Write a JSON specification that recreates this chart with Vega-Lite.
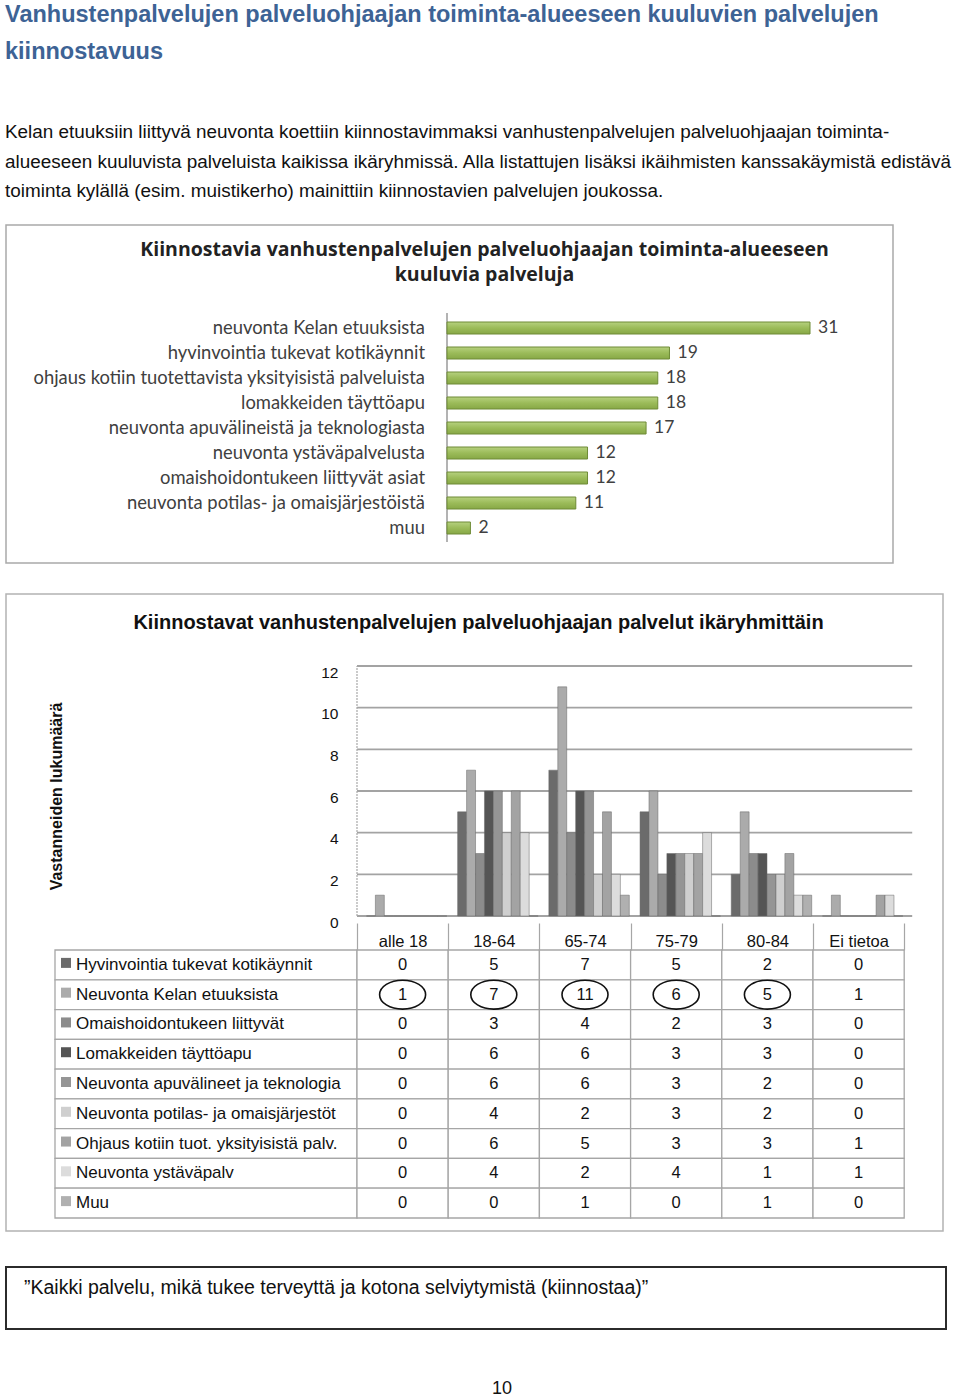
{
  "$schema": "https://vega.github.io/schema/vega-lite/v6.json",
  "padding": {"left": 5, "top": 2, "right": 0, "bottom": 0},
  "background": "white",
  "config": {"font": "Liberation Sans", "view": {"stroke": null}},
  "title": {
    "text": ["Vanhustenpalvelujen palveluohjaajan toiminta-alueeseen kuuluvien palvelujen", "kiinnostavuus"],
    "subtitle": ["Kelan etuuksiin liittyvä neuvonta koettiin kiinnostavimmaksi vanhustenpalvelujen palveluohjaajan toiminta-", "alueeseen kuuluvista palveluista kaikissa ikäryhmissä. Alla listattujen lisäksi ikäihmisten kanssakäymistä edistävä", "toiminta kylällä (esim. muistikerho) mainittiin kiinnostavien palvelujen joukossa."],
    "anchor": "start", "font": "Liberation Sans", "fontSize": 23.5, "fontWeight": "bold", "color": "#3d6395",
    "lineHeight": 37, "baseline": "top", "subtitleFont": "Liberation Sans", "subtitleFontSize": 18.9, "subtitleColor": "#111111",
    "subtitleLineHeight": 29.5, "subtitlePadding": 60, "offset": 23
  },
  "datasets": {
    "palvelut": [
      {"palvelu": "neuvonta Kelan etuuksista", "n": 31},
      {"palvelu": "hyvinvointia tukevat kotikäynnit", "n": 19},
      {"palvelu": "ohjaus kotiin tuotettavista yksityisistä palveluista", "n": 18},
      {"palvelu": "lomakkeiden täyttöapu", "n": 18},
      {"palvelu": "neuvonta apuvälineistä ja teknologiasta", "n": 17},
      {"palvelu": "neuvonta ystäväpalvelusta", "n": 12},
      {"palvelu": "omaishoidontukeen liittyvät asiat", "n": 12},
      {"palvelu": "neuvonta potilas- ja omaisjärjestöistä", "n": 11},
      {"palvelu": "muu", "n": 2}
    ],
    "taulukko": [
      {"series": "Hyvinvointia tukevat kotikäynnit", "age": "alle 18", "n": 0},
      {"series": "Hyvinvointia tukevat kotikäynnit", "age": "18-64", "n": 5},
      {"series": "Hyvinvointia tukevat kotikäynnit", "age": "65-74", "n": 7},
      {"series": "Hyvinvointia tukevat kotikäynnit", "age": "75-79", "n": 5},
      {"series": "Hyvinvointia tukevat kotikäynnit", "age": "80-84", "n": 2},
      {"series": "Hyvinvointia tukevat kotikäynnit", "age": "Ei tietoa", "n": 0},
      {"series": "Neuvonta Kelan etuuksista", "age": "alle 18", "n": 1},
      {"series": "Neuvonta Kelan etuuksista", "age": "18-64", "n": 7},
      {"series": "Neuvonta Kelan etuuksista", "age": "65-74", "n": 11},
      {"series": "Neuvonta Kelan etuuksista", "age": "75-79", "n": 6},
      {"series": "Neuvonta Kelan etuuksista", "age": "80-84", "n": 5},
      {"series": "Neuvonta Kelan etuuksista", "age": "Ei tietoa", "n": 1},
      {"series": "Omaishoidontukeen liittyvät", "age": "alle 18", "n": 0},
      {"series": "Omaishoidontukeen liittyvät", "age": "18-64", "n": 3},
      {"series": "Omaishoidontukeen liittyvät", "age": "65-74", "n": 4},
      {"series": "Omaishoidontukeen liittyvät", "age": "75-79", "n": 2},
      {"series": "Omaishoidontukeen liittyvät", "age": "80-84", "n": 3},
      {"series": "Omaishoidontukeen liittyvät", "age": "Ei tietoa", "n": 0},
      {"series": "Lomakkeiden täyttöapu", "age": "alle 18", "n": 0},
      {"series": "Lomakkeiden täyttöapu", "age": "18-64", "n": 6},
      {"series": "Lomakkeiden täyttöapu", "age": "65-74", "n": 6},
      {"series": "Lomakkeiden täyttöapu", "age": "75-79", "n": 3},
      {"series": "Lomakkeiden täyttöapu", "age": "80-84", "n": 3},
      {"series": "Lomakkeiden täyttöapu", "age": "Ei tietoa", "n": 0},
      {"series": "Neuvonta apuvälineet ja teknologia", "age": "alle 18", "n": 0},
      {"series": "Neuvonta apuvälineet ja teknologia", "age": "18-64", "n": 6},
      {"series": "Neuvonta apuvälineet ja teknologia", "age": "65-74", "n": 6},
      {"series": "Neuvonta apuvälineet ja teknologia", "age": "75-79", "n": 3},
      {"series": "Neuvonta apuvälineet ja teknologia", "age": "80-84", "n": 2},
      {"series": "Neuvonta apuvälineet ja teknologia", "age": "Ei tietoa", "n": 0},
      {"series": "Neuvonta potilas- ja omaisjärjestöt", "age": "alle 18", "n": 0},
      {"series": "Neuvonta potilas- ja omaisjärjestöt", "age": "18-64", "n": 4},
      {"series": "Neuvonta potilas- ja omaisjärjestöt", "age": "65-74", "n": 2},
      {"series": "Neuvonta potilas- ja omaisjärjestöt", "age": "75-79", "n": 3},
      {"series": "Neuvonta potilas- ja omaisjärjestöt", "age": "80-84", "n": 2},
      {"series": "Neuvonta potilas- ja omaisjärjestöt", "age": "Ei tietoa", "n": 0},
      {"series": "Ohjaus kotiin tuot. yksityisistä palv.", "age": "alle 18", "n": 0},
      {"series": "Ohjaus kotiin tuot. yksityisistä palv.", "age": "18-64", "n": 6},
      {"series": "Ohjaus kotiin tuot. yksityisistä palv.", "age": "65-74", "n": 5},
      {"series": "Ohjaus kotiin tuot. yksityisistä palv.", "age": "75-79", "n": 3},
      {"series": "Ohjaus kotiin tuot. yksityisistä palv.", "age": "80-84", "n": 3},
      {"series": "Ohjaus kotiin tuot. yksityisistä palv.", "age": "Ei tietoa", "n": 1},
      {"series": "Neuvonta ystäväpalv", "age": "alle 18", "n": 0},
      {"series": "Neuvonta ystäväpalv", "age": "18-64", "n": 4},
      {"series": "Neuvonta ystäväpalv", "age": "65-74", "n": 2},
      {"series": "Neuvonta ystäväpalv", "age": "75-79", "n": 4},
      {"series": "Neuvonta ystäväpalv", "age": "80-84", "n": 1},
      {"series": "Neuvonta ystäväpalv", "age": "Ei tietoa", "n": 1},
      {"series": "Muu", "age": "alle 18", "n": 0},
      {"series": "Muu", "age": "18-64", "n": 0},
      {"series": "Muu", "age": "65-74", "n": 1},
      {"series": "Muu", "age": "75-79", "n": 0},
      {"series": "Muu", "age": "80-84", "n": 1},
      {"series": "Muu", "age": "Ei tietoa", "n": 0}
    ],
    "asteikko": [{"v": 0}, {"v": 2}, {"v": 4}, {"v": 6}, {"v": 8}, {"v": 10}, {"v": 12}]
  },
  "spacing": 29,
  "vconcat": [
    {
      "width": 887, "height": 338,
      "view": {"stroke": "#a9a9a9", "strokeWidth": 1.5},
      "title": {"text": ["Kiinnostavia vanhustenpalvelujen palveluohjaajan toiminta-alueeseen", "kuuluvia palveluja"], "font": "Open Sans", "fontSize": 19.5, "fontWeight": "bold", "color": "#222222", "lineHeight": 24.5, "anchor": "middle", "dx": 35, "offset": -60, "baseline": "top"},
      "data": {"name": "palvelut"},
      "layer": [
        {
          "data": {"values": [{}]},
          "mark": {"type": "rule", "color": "#9a9a9a", "strokeWidth": 1.5, "yOffset": -9, "y2Offset": 8},
          "encoding": {
            "x": {"datum": 0, "type": "quantitative", "scale": {"domain": [0, 31], "range": [441, 804], "zero": false, "nice": false}, "axis": null},
            "y": {"datum": "neuvonta Kelan etuuksista", "type": "nominal", "bandPosition": 0, "scale": {"domain": ["neuvonta Kelan etuuksista", "hyvinvointia tukevat kotikäynnit", "ohjaus kotiin tuotettavista yksityisistä palveluista", "lomakkeiden täyttöapu", "neuvonta apuvälineistä ja teknologiasta", "neuvonta ystäväpalvelusta", "omaishoidontukeen liittyvät asiat", "neuvonta potilas- ja omaisjärjestöistä", "muu"], "range": [97, 309], "paddingInner": 0.52, "paddingOuter": 0}, "axis": null},
            "y2": {"datum": "muu", "bandPosition": 1}
          }
        },
        {
          "mark": {"type": "bar", "color": {"gradient": "linear", "x1": 0, "y1": 0, "x2": 0, "y2": 1, "stops": [{"offset": 0, "color": "#b6d17f"}, {"offset": 0.5, "color": "#9bbb59"}, {"offset": 1, "color": "#87a846"}]}, "stroke": "#6e8b36", "strokeWidth": 1},
          "encoding": {
            "y": {"field": "palvelu", "type": "nominal", "sort": null, "axis": null},
            "x": {"field": "n", "type": "quantitative", "axis": null}
          }
        },
        {
          "mark": {"type": "text", "align": "left", "baseline": "middle", "dx": 8, "font": "Lato", "fontSize": 17.5, "color": "#404040"},
          "encoding": {
            "y": {"field": "palvelu", "type": "nominal", "sort": null, "axis": null},
            "x": {"field": "n", "type": "quantitative", "axis": null},
            "text": {"field": "n", "type": "quantitative"}
          }
        },
        {
          "mark": {"type": "text", "align": "right", "baseline": "middle", "dx": -22, "font": "Lato", "fontSize": 18.4, "color": "#404040"},
          "encoding": {
            "y": {"field": "palvelu", "type": "nominal", "sort": null, "axis": null},
            "x": {"datum": 0, "type": "quantitative", "axis": null},
            "text": {"field": "palvelu", "type": "nominal"}
          }
        }
      ]
    },
    {
      "spacing": 34,
      "vconcat": [
        {
          "width": 937, "height": 637,
          "view": {"stroke": "#b3b3b3", "strokeWidth": 1.5},
          "title": {"text": "Kiinnostavat vanhustenpalvelujen palveluohjaajan palvelut ikäryhmittäin", "fontSize": 20, "fontWeight": "bold", "color": "#111111", "anchor": "middle", "dx": 4, "offset": -39, "baseline": "top"},
          "resolve": {"scale": {"y": "independent"}, "axis": {"y": "independent", "x": "independent"}},
          "layer": [
            {
              "data": {"name": "asteikko"},
              "mark": {"type": "rule", "color": "#a3a3a3", "strokeWidth": 1.8, "x2Offset": 8},
              "encoding": {
                "y": {"field": "v", "type": "quantitative", "scale": {"domain": [0, 12], "range": [322, 72], "zero": false, "nice": false}, "axis": null},
                "x": {"datum": "alle 18", "type": "nominal", "bandPosition": 0, "scale": {"type": "band", "domain": ["alle 18", "18-64", "65-74", "75-79", "80-84", "Ei tietoa"], "range": [351, 898.2], "paddingInner": 0, "paddingOuter": 0}, "axis": null},
                "x2": {"datum": "Ei tietoa", "bandPosition": 1}
              }
            },
            {
              "data": {"values": [{}]},
              "mark": {"type": "rule", "color": "#a8a8a8", "strokeWidth": 1.2, "strokeDash": [2, 1]},
              "encoding": {
                "y": {"datum": 0, "type": "quantitative", "scale": {"domain": [0, 12], "range": [322, 72], "zero": false, "nice": false}, "axis": null},
                "y2": {"datum": 12},
                "x": {"datum": "alle 18", "type": "nominal", "bandPosition": 0, "axis": null}
              }
            },
            {
              "data": {"name": "taulukko"},
              "mark": {"type": "bar", "stroke": "#666666", "strokeWidth": 0.5},
              "encoding": {
                "x": {"field": "age", "type": "nominal", "sort": null,
                  "axis": {"orient": "bottom", "offset": -308, "domain": false, "ticks": true, "tickBand": "extent", "tickSize": 27, "tickColor": "#a6a6a6", "tickWidth": 1.2, "labelPadding": -17, "labelFontSize": 16.5, "labelColor": "#111111", "labelAngle": 0, "grid": false, "title": null, "zindex": 1}},
                "xOffset": {"field": "series", "type": "nominal", "sort": null, "scale": {"domain": ["Hyvinvointia tukevat kotikäynnit", "Neuvonta Kelan etuuksista", "Omaishoidontukeen liittyvät", "Lomakkeiden täyttöapu", "Neuvonta apuvälineet ja teknologia", "Neuvonta potilas- ja omaisjärjestöt", "Ohjaus kotiin tuot. yksityisistä palv.", "Neuvonta ystäväpalv", "Muu"], "paddingInner": 0, "paddingOuter": 0.6, "align": 0.88}},
                "y": {"field": "n", "type": "quantitative", "scale": {"domain": [0, 12], "range": [322, 72], "zero": false, "nice": false},
                  "axis": {"orient": "left", "offset": -351, "values": [0, 2, 4, 6, 8, 10, 12], "domain": false, "ticks": false, "grid": false, "labelPadding": 19, "labelOffset": 6, "labelFontSize": 15.5, "labelColor": "#111111", "title": "Vastanneiden lukumäärä", "titleFontSize": 16, "titleFontWeight": "bold", "titleColor": "#111111", "titleX": -301, "titleY": 202, "titleAngle": 270, "titleAlign": "center", "titleBaseline": "middle"}},
                "color": {"field": "series", "type": "nominal", "sort": null, "scale": {"domain": ["Hyvinvointia tukevat kotikäynnit", "Neuvonta Kelan etuuksista", "Omaishoidontukeen liittyvät", "Lomakkeiden täyttöapu", "Neuvonta apuvälineet ja teknologia", "Neuvonta potilas- ja omaisjärjestöt", "Ohjaus kotiin tuot. yksityisistä palv.", "Neuvonta ystäväpalv", "Muu"], "range": ["#6b6b6b", "#ababab", "#8c8c8c", "#555555", "#959595", "#cfcfcf", "#a3a3a3", "#dcdcdc", "#b0b0b0"]}, "legend": null}
              }
            },
            {
              "data": {"name": "taulukko"},
              "transform": [{"filter": "datum.age === 'alle 18'"}],
              "mark": {"type": "rect", "fill": "white", "stroke": "#a6a6a6", "strokeWidth": 1.3, "xOffset": -302},
              "encoding": {
                "x": {"datum": "alle 18", "type": "nominal", "bandPosition": 0, "axis": null},
                "x2": {"datum": "alle 18", "bandPosition": 0},
                "y": {"field": "series", "type": "nominal", "sort": null, "scale": {"domain": ["Hyvinvointia tukevat kotikäynnit", "Neuvonta Kelan etuuksista", "Omaishoidontukeen liittyvät", "Lomakkeiden täyttöapu", "Neuvonta apuvälineet ja teknologia", "Neuvonta potilas- ja omaisjärjestöt", "Ohjaus kotiin tuot. yksityisistä palv.", "Neuvonta ystäväpalv", "Muu"], "range": [356, 624], "paddingInner": 0, "paddingOuter": 0}, "axis": null}
              }
            },
            {
              "data": {"name": "taulukko"},
              "mark": {"type": "rect", "fill": "white", "stroke": "#a6a6a6", "strokeWidth": 1.3},
              "encoding": {
                "x": {"field": "age", "type": "nominal", "sort": null, "axis": null},
                "y": {"field": "series", "type": "nominal", "sort": null, "scale": {"domain": ["Hyvinvointia tukevat kotikäynnit", "Neuvonta Kelan etuuksista", "Omaishoidontukeen liittyvät", "Lomakkeiden täyttöapu", "Neuvonta apuvälineet ja teknologia", "Neuvonta potilas- ja omaisjärjestöt", "Ohjaus kotiin tuot. yksityisistä palv.", "Neuvonta ystäväpalv", "Muu"], "range": [356, 624], "paddingInner": 0, "paddingOuter": 0}, "axis": null}
              }
            },
            {
              "data": {"name": "taulukko"},
              "transform": [{"filter": "datum.age === 'alle 18'"}],
              "mark": {"type": "square", "size": 100, "opacity": 1, "xOffset": -291, "yOffset": -2},
              "encoding": {
                "x": {"datum": "alle 18", "type": "nominal", "bandPosition": 0, "axis": null},
                "y": {"field": "series", "type": "nominal", "sort": null, "scale": {"domain": ["Hyvinvointia tukevat kotikäynnit", "Neuvonta Kelan etuuksista", "Omaishoidontukeen liittyvät", "Lomakkeiden täyttöapu", "Neuvonta apuvälineet ja teknologia", "Neuvonta potilas- ja omaisjärjestöt", "Ohjaus kotiin tuot. yksityisistä palv.", "Neuvonta ystäväpalv", "Muu"], "range": [356, 624], "paddingInner": 0, "paddingOuter": 0}, "axis": null},
                "color": {"field": "series", "type": "nominal", "sort": null, "legend": null}
              }
            },
            {
              "data": {"name": "taulukko"},
              "transform": [{"filter": "datum.age === 'alle 18'"}],
              "mark": {"type": "text", "align": "left", "baseline": "middle", "dx": -281, "fontSize": 17, "color": "#111111"},
              "encoding": {
                "x": {"datum": "alle 18", "type": "nominal", "bandPosition": 0, "axis": null},
                "y": {"field": "series", "type": "nominal", "sort": null, "scale": {"domain": ["Hyvinvointia tukevat kotikäynnit", "Neuvonta Kelan etuuksista", "Omaishoidontukeen liittyvät", "Lomakkeiden täyttöapu", "Neuvonta apuvälineet ja teknologia", "Neuvonta potilas- ja omaisjärjestöt", "Ohjaus kotiin tuot. yksityisistä palv.", "Neuvonta ystäväpalv", "Muu"], "range": [356, 624], "paddingInner": 0, "paddingOuter": 0}, "axis": null},
                "text": {"field": "series", "type": "nominal"}
              }
            },
            {
              "data": {"name": "taulukko"},
              "mark": {"type": "text", "align": "center", "baseline": "middle", "fontSize": 16.5, "color": "#111111"},
              "encoding": {
                "x": {"field": "age", "type": "nominal", "sort": null, "axis": null},
                "y": {"field": "series", "type": "nominal", "sort": null, "scale": {"domain": ["Hyvinvointia tukevat kotikäynnit", "Neuvonta Kelan etuuksista", "Omaishoidontukeen liittyvät", "Lomakkeiden täyttöapu", "Neuvonta apuvälineet ja teknologia", "Neuvonta potilas- ja omaisjärjestöt", "Ohjaus kotiin tuot. yksityisistä palv.", "Neuvonta ystäväpalv", "Muu"], "range": [356, 624], "paddingInner": 0, "paddingOuter": 0}, "axis": null},
                "text": {"field": "n", "type": "quantitative"}
              }
            },
            {
              "data": {"name": "taulukko"},
              "transform": [{"filter": "datum.series === 'Neuvonta Kelan etuuksista' && datum.age !== 'Ei tietoa'"}],
              "mark": {"type": "point", "shape": "M-1,0A1,0.63 0 1,0 1,0A1,0.63 0 1,0 -1,0Z", "size": 2116, "filled": false, "stroke": "#111111", "strokeWidth": 1.6, "opacity": 1},
              "encoding": {
                "x": {"field": "age", "type": "nominal", "sort": null, "axis": null},
                "y": {"field": "series", "type": "nominal", "sort": null, "scale": {"domain": ["Hyvinvointia tukevat kotikäynnit", "Neuvonta Kelan etuuksista", "Omaishoidontukeen liittyvät", "Lomakkeiden täyttöapu", "Neuvonta apuvälineet ja teknologia", "Neuvonta potilas- ja omaisjärjestöt", "Ohjaus kotiin tuot. yksityisistä palv.", "Neuvonta ystäväpalv", "Muu"], "range": [356, 624], "paddingInner": 0, "paddingOuter": 0}, "axis": null}
              }
            }
          ]
        },
        {
          "spacing": 49,
          "vconcat": [
            {
              "width": 940, "height": 62,
              "view": {"stroke": "#2b2b2b", "strokeWidth": 2},
              "data": {"values": [{"t": "”Kaikki palvelu, mikä tukee terveyttä ja kotona selviytymistä (kiinnostaa)”"}]},
              "mark": {"type": "text", "align": "left", "baseline": "middle", "dx": -452, "dy": -10, "fontSize": 19.5, "color": "#111111"},
              "encoding": {"text": {"field": "t", "type": "nominal"}}
            },
            {
              "width": 940, "height": 20,
              "data": {"values": [{"p": "10"}]},
              "mark": {"type": "text", "align": "center", "baseline": "middle", "dx": 26, "fontSize": 18, "color": "#111111"},
              "encoding": {"text": {"field": "p", "type": "nominal"}}
            }
          ]
        }
      ]
    }
  ]
}
